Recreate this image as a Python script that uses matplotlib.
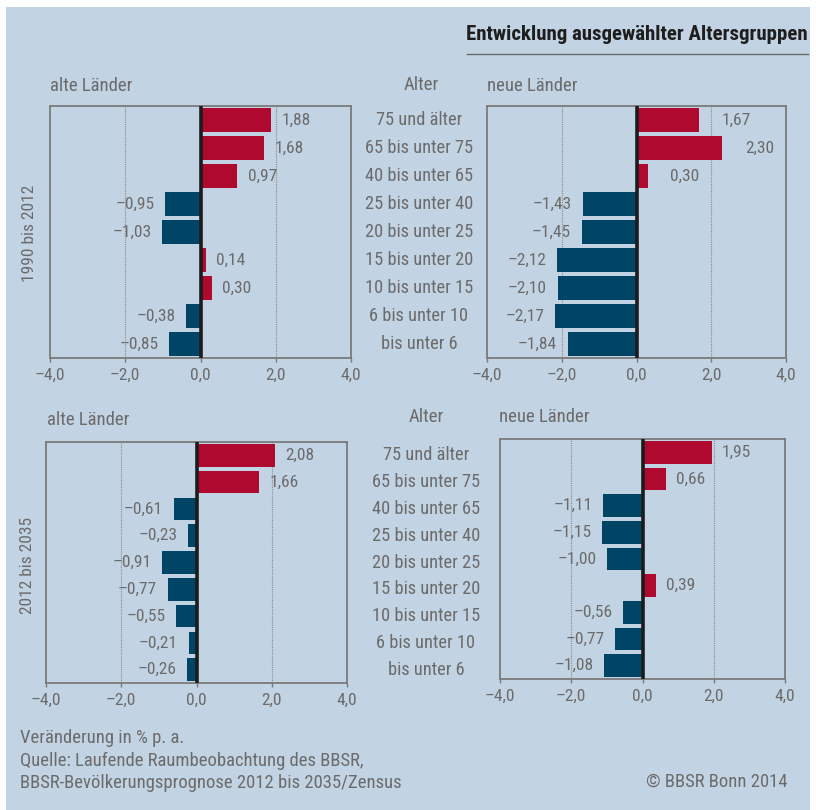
import matplotlib
matplotlib.use("Agg")
import matplotlib.pyplot as plt
from matplotlib import font_manager
import matplotlib.transforms as mtransforms

# ---------------- data ----------------
ages = ["75 und älter", "65 bis unter 75", "40 bis unter 65", "25 bis unter 40",
        "20 bis unter 25", "15 bis unter 20", "10 bis unter 15", "6 bis unter 10",
        "bis unter 6"]
alte_1990_2012 = [1.88, 1.68, 0.97, -0.95, -1.03, 0.14, 0.30, -0.38, -0.85]
neue_1990_2012 = [1.67, 2.30, 0.30, -1.43, -1.45, -2.12, -2.10, -2.17, -1.84]
alte_2012_2035 = [2.08, 1.66, -0.61, -0.23, -0.91, -0.77, -0.55, -0.21, -0.26]
neue_2012_2035 = [1.95, 0.66, -1.11, -1.15, -1.00, 0.39, -0.56, -0.77, -1.08]
xticks = [-4, -2, 0, 2, 4]
xtick_labels = ["–4,0", "–2,0", "0,0", "2,0", "4,0"]

title = "Entwicklung ausgewählter Altersgruppen"
period_labels = ["1990 bis 2012", "2012 bis 2035"]
footer_lines = ["Veränderung in % p. a.",
                "Quelle: Laufende Raumbeobachtung des BBSR,",
                "BBSR-Bevölkerungsprognose 2012 bis 2035/Zensus"]
copyright_text = "© BBSR Bonn 2014"

# ---------------- style ----------------
BG = "#c2d3e3"
RED = "#b0092f"
BLUE = "#004466"
GREY = "#6b6b6b"
SPINE = "#7a7a7a"

names = {f.name for f in font_manager.fontManager.ttflist}
stretch = "normal"
family = "DejaVu Sans"
for cand in ["Liberation Sans Narrow", "Roboto Condensed", "Open Sans Condensed",
             "Noto Sans Condensed", "DejaVu Sans Condensed"]:
    if cand in names:
        family = cand
        break
else:
    cond = [f for f in font_manager.fontManager.ttflist
            if f.name == "DejaVu Sans" and str(f.stretch) in ("condensed", "semi-condensed")]
    if cond:
        stretch = "condensed"
plt.rcParams["font.family"] = [family, "DejaVu Sans"]
plt.rcParams["font.stretch"] = stretch

W, H = 816, 810
fig = plt.figure(figsize=(W / 100, H / 100), dpi=100)
fig.patch.set_facecolor("white")
fig.add_artist(plt.Rectangle((6 / W, 0), 804 / W, 1 - 7 / H, transform=fig.transFigure,
                             facecolor=BG, edgecolor="none", zorder=0))


def px_rect(l, r, t, b):
    return [l / W, 1 - b / H, (r - l) / W, (b - t) / H]


def fx(x):
    return x / W


def fy(y):
    return 1 - y / H


def fmt(v):
    return f"{v:.2f}".replace(".", ",").replace("-", "–")


VAL_FS = 12.5
LAB_FS = 13.2
HEAD_FS = 13.5


def panel(rect, values, bar_h, off_pos, off_neg):
    ax = fig.add_axes(rect)
    ax.set_facecolor(BG)
    n = len(values)
    ys = list(range(n))
    colors = [RED if v > 0 else BLUE for v in values]
    ax.barh(ys, values, height=bar_h, color=colors, zorder=2)
    for y, v in zip(ys, values):
        if v > 0:
            ax.text(v + off_pos, y, fmt(v), ha="left", va="center", color=GREY, fontsize=VAL_FS)
        else:
            ax.text(v - off_neg, y, fmt(v), ha="right", va="center", color=GREY, fontsize=VAL_FS)
    ax.set_xlim(-4, 4)
    ax.set_ylim(n - 0.5, -0.5)
    ax.axvline(0, color="#1c1c1c", lw=2.6, zorder=3)
    for g in (-2, 2):
        ax.axvline(g, color="#8a8a8a", lw=0.8, ls=(0, (1, 1)), zorder=1)
    ax.set_xticks(xticks)
    ax.set_xticklabels(xtick_labels)
    ax.set_yticks([])
    ax.tick_params(axis="x", direction="out", length=3, width=1, color=SPINE,
                   labelsize=VAL_FS, labelcolor=GREY, pad=4)
    for s in ax.spines.values():
        s.set_color(SPINE)
        s.set_linewidth(1.3)
    return ax


ax1 = panel(px_rect(50, 351, 106, 358), alte_1990_2012, 0.85, 0.28, 0.27)
ax2 = panel(px_rect(487, 786, 106, 358), neue_1990_2012, 0.85, 0.6, 0.3)
ax3 = panel(px_rect(46, 347, 442, 683), alte_2012_2035, 0.84, 0.28, 0.28)
ax4 = panel(px_rect(500, 785, 439, 679), neue_2012_2035, 0.84, 0.28, 0.28)

# category labels in the middle
for ax, xc in ((ax1, 419), (ax3, 426)):
    tr = mtransforms.blended_transform_factory(fig.transFigure, ax.transData)
    for i, lab in enumerate(ages):
        fig.text(fx(xc), i, lab, transform=tr, ha="center", va="center",
                 color=GREY, fontsize=LAB_FS)

# headers
fig.text(fx(421), fy(85), "Alter", ha="center", va="center", color=GREY, fontsize=HEAD_FS)
fig.text(fx(426), fy(417), "Alter", ha="center", va="center", color=GREY, fontsize=HEAD_FS)
fig.text(fx(50), fy(86), "alte Länder", ha="left", va="center", color=GREY, fontsize=HEAD_FS)
fig.text(fx(487), fy(86), "neue Länder", ha="left", va="center", color=GREY, fontsize=HEAD_FS)
fig.text(fx(47), fy(420), "alte Länder", ha="left", va="center", color=GREY, fontsize=HEAD_FS)
fig.text(fx(499), fy(417), "neue Länder", ha="left", va="center", color=GREY, fontsize=HEAD_FS)

# period labels
fig.text(fx(29), fy(233), period_labels[0], rotation=90, ha="center", va="center",
         color=GREY, fontsize=VAL_FS)
fig.text(fx(28), fy(565), period_labels[1], rotation=90, ha="center", va="center",
         color=GREY, fontsize=VAL_FS)

# title
fig.text(fx(808), fy(35), title, ha="right", va="center", color="#1e1e1e",
         fontsize=15, fontweight="bold")
fig.add_artist(plt.Line2D([fx(467), fx(808)], [fy(54), fy(54)], transform=fig.transFigure,
                          color="#6a6a6a", lw=1))

# footer
for yy, line in zip((738, 761, 783), footer_lines):
    fig.text(fx(20), fy(yy), line, ha="left", va="center", color=GREY, fontsize=13.4)
fig.text(fx(788), fy(782), copyright_text, ha="right", va="center", color=GREY, fontsize=13.4)

fig.savefig("out.png", dpi=100, facecolor=fig.get_facecolor())
